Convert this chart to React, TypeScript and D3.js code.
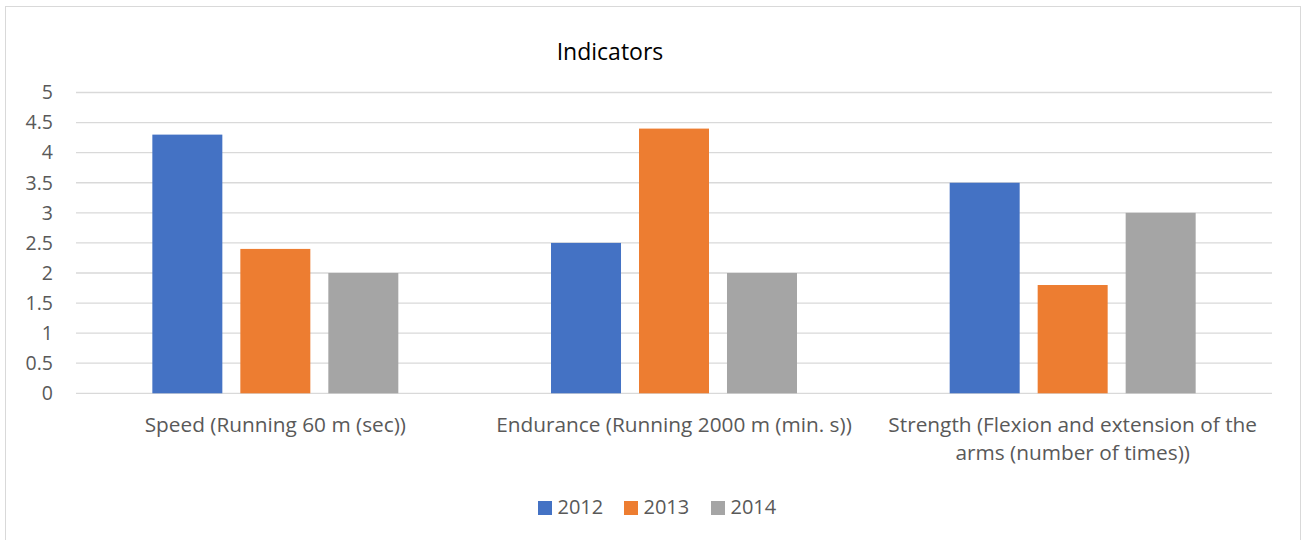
import React, { useEffect, useRef } from "react";
import * as d3 from "d3";

const categories = [
  "Speed (Running 60 m (sec))",
  "Endurance (Running 2000 m (min. s))",
  "Strength (Flexion and extension of the arms (number of times))",
];
const seriesNames = ["2012", "2013", "2014"];
const values2012 = [4.3, 2.5, 3.5];
const values2013 = [2.4, 4.4, 1.8];
const values2014 = [2.0, 2.0, 3.0];
const yTicks = [0, 0.5, 1, 1.5, 2, 2.5, 3, 3.5, 4, 4.5, 5];
const colors = ["#4472C4", "#ED7D31", "#A5A5A5"];
const title = "Indicators";

const W = 1303;
const H = 540;
const FONT = "Open Sans, Liberation Sans, sans-serif";
const TEXT = "#595959";

export default function App() {
  const ref = useRef<SVGSVGElement>(null);
  useEffect(() => {
    const svg = d3.select(ref.current);
    svg.selectAll("*").remove();
    const seriesValues = [values2012, values2013, values2014];
    const left = 76, right = 1272, top = 92.5, bottom = 393.3;

    svg.append("rect").attr("x", 5.5).attr("y", 6.5).attr("width", 1295).attr("height", 540)
      .attr("fill", "#fff").attr("stroke", "#d9d9d9");

    const x0 = d3.scaleBand<string>().domain(categories).range([left, right]).padding(0);
    const gw = x0.bandwidth();
    const outer = gw * 0.1915;
    const x1 = d3.scaleBand<string>().domain(seriesNames).range([outer, gw - outer])
      .paddingInner(0.2045).paddingOuter(0);
    const y = d3.scaleLinear().domain([0, 5]).range([bottom, top]);

    // gridlines
    svg.append("g").selectAll("line").data(yTicks).join("line")
      .attr("x1", left).attr("x2", right)
      .attr("y1", d => y(d)).attr("y2", d => y(d))
      .attr("stroke", "#d9d9d9").attr("stroke-width", 1.3);

    // y tick labels
    svg.append("g").selectAll("text").data(yTicks).join("text")
      .attr("x", 53).attr("y", d => y(d)).attr("dy", "0.35em")
      .attr("text-anchor", "end").attr("font-family", FONT).attr("font-size", 19.5)
      .attr("fill", TEXT).text(d => String(d));

    // bars
    const g = svg.append("g");
    categories.forEach((c, ci) => {
      seriesNames.forEach((s, si) => {
        const v = seriesValues[si][ci];
        g.append("rect")
          .attr("x", (x0(c) as number) + (x1(s) as number))
          .attr("y", y(v))
          .attr("width", x1.bandwidth())
          .attr("height", y(0) - y(v))
          .attr("fill", colors[si]);
      });
    });

    // category labels with wrapping
    categories.forEach(c => {
      const cx = (x0(c) as number) + gw / 2;
      const t = svg.append("text").attr("x", cx).attr("y", 431.5)
        .attr("text-anchor", "middle").attr("font-family", FONT).attr("font-size", 20.8)
        .attr("fill", TEXT);
      const words = c.split(" ");
      let line: string[] = [];
      let tspan = t.append("tspan").attr("x", cx).attr("dy", 0);
      for (const w of words) {
        line.push(w);
        tspan.text(line.join(" "));
        if ((tspan.node() as SVGTSpanElement).getComputedTextLength() > gw - 8 && line.length > 1) {
          line.pop();
          tspan.text(line.join(" "));
          line = [w];
          tspan = t.append("tspan").attr("x", cx).attr("dy", 28).text(w);
        }
      }
    });

    // title
    svg.append("text").attr("x", 610).attr("y", 60).attr("text-anchor", "middle")
      .attr("font-family", FONT).attr("font-size", 23).attr("fill", "#000").text(title);

    // legend
    const legendX = [538, 624, 711];
    seriesNames.forEach((s, i) => {
      svg.append("rect").attr("x", legendX[i]).attr("y", 501).attr("width", 14).attr("height", 14)
        .attr("fill", colors[i]);
      svg.append("text").attr("x", legendX[i] + 19.5).attr("y", 514)
        .attr("font-family", FONT).attr("font-size", 20).attr("fill", TEXT).text(s);
    });
  }, []);
  return (
    <svg ref={ref} width={W} height={H}
      style={{ position: "absolute", left: 0, top: 0, background: "#fff" }} />
  );
}
